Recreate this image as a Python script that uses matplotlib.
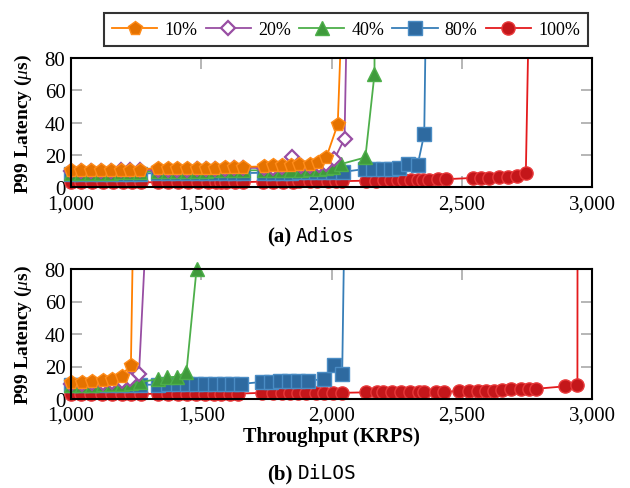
import matplotlib
matplotlib.use("Agg")
import matplotlib.pyplot as plt
from matplotlib.lines import Line2D
import numpy as np

plt.rcParams['font.family'] = ['Liberation Serif', 'DejaVu Serif']
plt.rcParams['mathtext.fontset'] = 'custom'
plt.rcParams['mathtext.rm'] = 'Liberation Serif'
plt.rcParams['mathtext.it'] = 'Liberation Serif:italic'
plt.rcParams['mathtext.bf'] = 'Liberation Serif:bold'

labels = ['10%', '20%', '40%', '80%', '100%']

# ---------------- Adios ----------------
adios_10_x = [1000, 1038, 1077, 1115, 1153, 1192, 1226, 1264,
              1335, 1373, 1407, 1447, 1485, 1520, 1554, 1590, 1624, 1660,
              1741, 1775, 1811, 1846, 1877, 1916, 1947, 1980, 2024, 2060]
adios_10_y = [10.5, 10.5, 10.5, 10.5, 10.5, 11, 11, 11,
              12, 12, 12, 12, 12, 12, 12, 12.5, 12.5, 12.5,
              13, 13.5, 14, 14, 14.4, 14.4, 15.5, 18.5, 39, 200]

adios_20_x = [1000, 1038, 1077, 1115, 1153, 1192, 1226, 1264,
              1335, 1373, 1407, 1447, 1485, 1520, 1554, 1590, 1624, 1660,
              1741, 1775, 1811, 1848, 1884, 1916, 1951, 1980, 2011, 2050, 2070]
adios_20_y = [10, 10, 10, 10, 10, 10.5, 10.5, 10.5,
              11, 11, 11, 11, 11.5, 11.5, 11.5, 11.5, 12, 12,
              12, 12, 12.5, 18.5, 13, 13, 13.5, 14.5, 17.5, 30, 200]

adios_40_x = [1000, 1038, 1077, 1115, 1153, 1192, 1226, 1264,
              1335, 1373, 1407, 1447, 1485, 1520, 1554, 1590, 1624, 1660,
              1741, 1775, 1811, 1846, 1884, 1916, 1951, 1980, 2005,
              2037, 2130, 2165, 2167]
adios_40_y = [9, 9, 9, 9, 9, 9.5, 9.5, 9.5,
              10, 10, 10, 10, 10, 10, 10.5, 10.5, 10.5, 10.5,
              10.5, 11, 11, 11, 11, 11.5, 11.5, 12, 12.5,
              14.4, 18.5, 70, 200]

adios_80_x = [1000, 1038, 1077, 1115, 1153, 1192, 1226, 1264,
              1335, 1373, 1407, 1447, 1485, 1520, 1554, 1590, 1624, 1660,
              1741, 1775, 1811, 1846, 1877, 1909, 1941, 1973, 2005, 2043,
              2127, 2161, 2197, 2229, 2261, 2293, 2331, 2356, 2370]
adios_80_y = [8.5, 8.5, 8.5, 8.5, 8.5, 8.5, 8.5, 8.5,
              8.8, 8.8, 8.8, 8.8, 8.8, 8.8, 8.8, 8.8, 8.8, 8.8,
              9, 9, 9, 9, 9.3, 9.3, 9.3, 9.3, 9.5, 9.5,
              11.3, 11.3, 11.5, 11.5, 12, 14.4, 14, 33, 200]

adios_100_x = [1000, 1038, 1080, 1122, 1160, 1199, 1234, 1270,
               1335, 1373, 1411, 1450, 1488, 1527, 1558, 1577, 1596, 1628, 1660,
               1736, 1775, 1813, 1851, 1877, 1916, 1946, 1985, 2019, 2042,
               2133, 2171, 2203, 2229, 2254, 2280, 2305, 2331, 2350, 2375, 2407, 2439,
               2542, 2574, 2606, 2644, 2676, 2714, 2746, 2768]
adios_100_y = [3, 3, 3, 3, 3, 3, 3, 3,
               3.2, 3.2, 3.2, 3.2, 3.2, 3.2, 3.2, 3.2, 3.2, 3.2, 3.2,
               3.5, 3.5, 3.5, 3.5, 3.8, 3.8, 3.8, 3.8, 3.8, 3.8,
               4.1, 4.1, 4.3, 4.3, 4.3, 4.3, 4.5, 4.5, 4.8, 4.8, 5, 5,
               5.8, 6, 6, 6.2, 6.4, 6.8, 8.8, 200]

# ---------------- DiLOS ----------------
dilos_10_x = [1000, 1041, 1082, 1121, 1158, 1194, 1230, 1248]
dilos_10_y = [10.6, 10.6, 11.3, 11.7, 12.3, 14.4, 21, 200]

dilos_20_x = [1000, 1041, 1082, 1121, 1158, 1194, 1226, 1261, 1318]
dilos_20_y = [9.5, 9.5, 10, 10, 10.5, 11, 12.3, 15.4, 200]

dilos_40_x = [1000, 1041, 1082, 1121, 1158, 1194, 1230, 1264,
              1335, 1369, 1405, 1443, 1482, 1486]
dilos_40_y = [8.5, 8.5, 8.5, 9, 9, 9.5, 10, 10.3,
              12.3, 13.3, 13.7, 16.4, 80, 200]

dilos_80_x = [1000, 1038, 1077, 1115, 1153, 1192, 1226, 1264,
              1335, 1373, 1411, 1447, 1481, 1516, 1552, 1586, 1619, 1654,
              1734, 1769, 1801, 1836, 1871, 1909,
              1973, 2011, 2041, 2058]
dilos_80_y = [8.8, 8.8, 8.8, 8.8, 8.8, 8.8, 8.8, 8.8,
              8.8, 9, 9, 9, 9.2, 9.2, 9.3, 9.3, 9.3, 9.3,
              10.5, 10.5, 10.8, 10.8, 11.2, 11.2,
              12.3, 21, 15.4, 200]

dilos_100_x = [1000, 1038, 1077, 1119, 1158, 1196, 1232, 1267,
               1335, 1373, 1411, 1447, 1481, 1516, 1548, 1577, 1609, 1641,
               1734, 1775, 1811, 1839, 1871, 1903, 1939, 1973, 2005, 2041,
               2133, 2174, 2197, 2233, 2267, 2302, 2337, 2356, 2401, 2430,
               2490, 2529, 2561, 2593, 2624, 2656, 2688, 2726, 2758, 2786,
               2897, 2944, 2945]
dilos_100_y = [3, 3, 3, 3, 3, 3, 3, 3,
               3.3, 3.3, 3.3, 3.3, 3.3, 3.3, 3.3, 3.3, 3.3, 3.3,
               3.8, 3.8, 3.8, 3.8, 3.8, 3.8, 3.8, 3.8, 3.8, 3.8,
               4.1, 4.1, 4.1, 4.1, 4.2, 4.2, 4.2, 4.2, 4.3, 4.3,
               5, 5, 5.1, 5.1, 5.2, 5.3, 6, 6.1, 6.2, 6.3,
               7.8, 8.8, 200]

x_ticks = [1000, 1500, 2000, 2500, 3000]
x_tick_labels = ['1,000', '1,500', '2,000', '2,500', '3,000']
y_ticks = [0, 20, 40, 60, 80]

styles = [
    dict(color='#ff7f00', marker='p', mfc='#e57200', mec='#ff8c1a', ms=10.5),
    dict(color='#984ea3', marker='D', mfc='white', mec='#984ea3', ms=7, mew=1.6),
    dict(color='#4daf4a', marker='^', mfc='#3f9a3c', mec='#4daf4a', ms=9.5),
    dict(color='#377eb8', marker='s', mfc='#2e6aa0', mec='#4a8cc4', ms=9.5),
    dict(color='#e41a1c', marker='o', mfc='#c4161a', mec='#e8393a', ms=9.5),
]

adios = [(adios_10_x, adios_10_y), (adios_20_x, adios_20_y), (adios_40_x, adios_40_y),
         (adios_80_x, adios_80_y), (adios_100_x, adios_100_y)]
dilos = [(dilos_10_x, dilos_10_y), (dilos_20_x, dilos_20_y), (dilos_40_x, dilos_40_y),
         (dilos_80_x, dilos_80_y), (dilos_100_x, dilos_100_y)]

fig = plt.figure(figsize=(6.3, 4.89), dpi=100)
W, H = 630, 489
ax1 = fig.add_axes([71 / W, 1 - 188.3 / H, 521 / W, 129.3 / H])
ax2 = fig.add_axes([71 / W, 1 - 400 / H, 521 / W, 130 / H])

for ax, data in [(ax1, adios), (ax2, dilos)]:
    n = len(data)
    for i, ((xs, ys), st) in enumerate(zip(data, styles)):
        z = 10 + (n - i) * 2
        xs = np.asarray(xs, float)
        ys = np.asarray(ys, float)
        ax.plot(xs, ys, color=st['color'], lw=1.3, zorder=z, clip_on=True)
        keep = ys <= 80.5
        ax.plot(xs[keep], ys[keep], ls='none', marker=st['marker'], ms=st['ms'],
                mfc=st['mfc'], mec=st['mec'], mew=st.get('mew', 1.0),
                zorder=z + 1, clip_on=False)
    ax.set_xlim(1000, 3000)
    ax.set_ylim(0, 80)
    ax.set_xticks(x_ticks)
    ax.set_xticklabels(x_tick_labels)
    ax.set_yticks(y_ticks)
    ax.tick_params(direction='in', top=True, right=True, length=8, width=1.3,
                   color='#b0b0b0', labelsize=15, pad=4)
    ax.tick_params(axis='x', pad=5)
    for sp in ax.spines.values():
        sp.set_linewidth(1.5)
        sp.set_color('black')
        sp.set_zorder(30)
    ax.set_ylabel(r'P99 Latency ($\mu$s)', fontsize=14, fontweight='bold')
    ax.yaxis.set_label_coords(-0.071, 0.5)

ax2.set_xlabel('Throughput (KRPS)', fontsize=14.5, fontweight='bold', labelpad=1)

handles = [Line2D([0], [0], color=st['color'], lw=1.3, marker=st['marker'], ms=st['ms'],
                  mfc=st['mfc'], mec=st['mec'], mew=st.get('mew', 1.0)) for st in styles]
leg = fig.legend(handles, labels, loc='upper center', bbox_to_anchor=(346 / W, 1 - 5 / H),
                 ncol=5, frameon=True, fancybox=False, edgecolor='black', fontsize=13,
                 handlelength=2.5, handletextpad=0.4, columnspacing=0.45, borderpad=0.45)
leg.get_frame().set_linewidth(1.5)

# captions
fig.text(291 / W, 1 - 237 / H, '(a)', ha='right', va='center', fontsize=15, fontweight='bold')
fig.text(296 / W, 1 - 237 / H, 'Adios', ha='left', va='center', fontsize=14,
         family=['DejaVu Sans Mono'])
fig.text(292 / W, 1 - 474 / H, '(b)', ha='right', va='center', fontsize=15, fontweight='bold')
fig.text(298 / W, 1 - 474 / H, 'DiLOS', ha='left', va='center', fontsize=14,
         family=['DejaVu Sans Mono'])

fig.savefig('out.png', dpi=100)
